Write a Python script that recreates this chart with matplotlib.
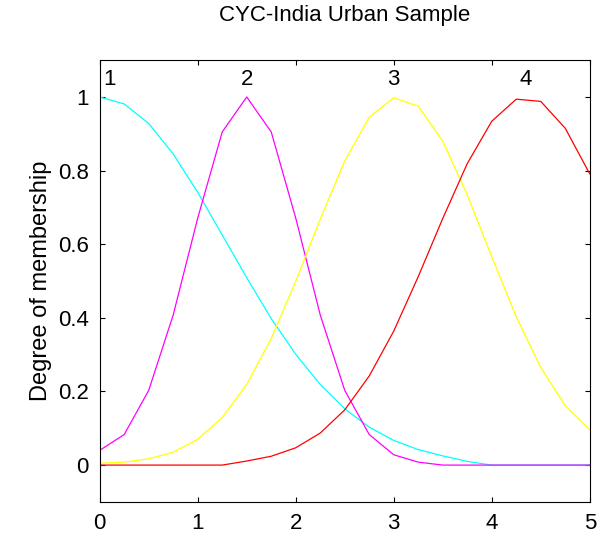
import matplotlib
matplotlib.use("Agg")
import matplotlib.pyplot as plt

plt.rcParams['font.family'] = ['Liberation Sans', 'DejaVu Sans']

x = [0, 0.25, 0.5, 0.75, 1, 1.25, 1.5, 1.75, 2, 2.25, 2.5, 2.75, 3, 3.25, 3.5,
     3.75, 4, 4.25, 4.5, 4.75, 5]
mf1 = [1, .981, .928, .845, .741, .625, .509, .398, .301, .219, .153, .103, .067,
       .042, .025, .01, 0, 0, 0, 0, 0]
mf2 = [.04, .083, .203, .408, .671, .905, 1, .905, .671, .408, .203, .083, .028,
       .008, 0, 0, 0, 0, 0, 0, 0]
mf3 = [.005, .008, .017, .035, .070, .129, .219, .344, .499, .668, .826, .945, .998,
       .975, .880, .734, .566, .403, .265, .161, .095]
mf4 = [0, 0, 0, 0, 0, 0, .011, .024, .047, .087, .150, .242, .364, .512, .670,
       .819, .934, .994, .988, .915, .791]
labels = ["1", "2", "3", "4"]
label_x = [0.1, 1.5, 3.0, 4.35]

fig = plt.figure(figsize=(6.08, 5.42), dpi=100)
ax = fig.add_axes([0.164, 0.074, 0.806, 0.815])

ax.plot(x, mf1, color="cyan", lw=0.9)
ax.plot(x, mf2, color="magenta", lw=0.9)
ax.plot(x, mf3, color="yellow", lw=0.9)
ax.plot(x, mf4, color="red", lw=0.9)

for lx, lb in zip(label_x, labels):
    ax.text(lx, 1.02, lb, ha="center", va="bottom", fontsize=16)

ax.set_xlim(0, 5)
ax.set_ylim(-0.1, 1.1)
ax.set_yticks([0, 0.2, 0.4, 0.6, 0.8, 1])
ax.set_yticklabels(["0", "0.2", "0.4", "0.6", "0.8", "1"])
ax.tick_params(direction="in", top=True, right=True, labelsize=16, pad=8)
ax.set_ylabel("Degree of membership", fontsize=17)
ax.set_title("CYC-India Urban Sample", fontsize=16, pad=28)

plt.savefig("out.png", dpi=100)
